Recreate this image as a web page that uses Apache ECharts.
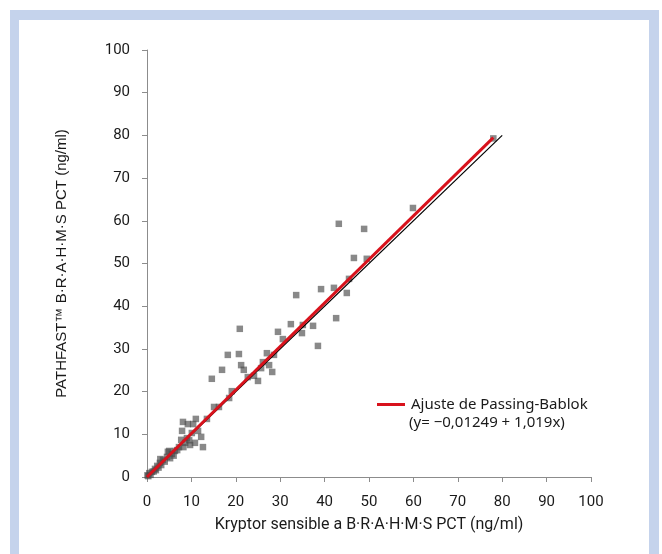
<!DOCTYPE html>
<html><head><meta charset="utf-8">
<script src="https://cdn.jsdelivr.net/npm/echarts@6/dist/echarts.min.js"></script>
<style>
html,body{margin:0;padding:0;background:#fff;}
#frame{position:absolute;left:10px;top:10px;width:649px;height:560px;box-sizing:border-box;border:10px solid #c5d3ec;border-left-width:9px;background:#fff;}
#chart{position:absolute;left:0;top:0;width:662px;height:554px;}
</style></head>
<body>
<div id="frame"></div>
<div id="chart"></div>
<script>
// Kryptor (x) vs PATHFAST (y), ng/ml
const xVals = [78,59.9,43.2,48.9,46.6,49.5,45.5,39.2,42.1,45.0,42.6,37.4,35.1,34.9,38.5,33.6,32.4,29.5,30.6,20.9,
  18.2,20.7,27.0,28.6,21.2,21.8,26.1,27.5,25.7,28.2,16.9,14.6,22.7,24.1,25.0,19.1,18.5,15.1,16.2,13.5,
  11.0,9.2,10.4,7.9,11.5,12.2,10.1,9.0,7.7,8.6,10.8,12.6,9.7,7.2,6.3,5.6,4.7,4.5,3.6,2.9,
  2.3,1.8,1.1,0.5,0.1,6.8,5.2,3.2,2.0,1.5,0.8,0.3,4.0,6.0,8.2,9.5,5.0,3.0,8.1,2.6];
const yVals = [79.3,63.0,59.3,58.1,51.3,51.1,46.4,44.0,44.3,43.1,37.2,35.4,35.6,33.7,30.7,42.6,35.8,34.0,32.3,34.7,
  28.6,28.8,29.0,28.6,26.2,25.1,26.9,26.2,25.5,24.6,25.1,23.0,23.4,23.7,22.5,20.1,18.5,16.4,16.4,13.6,
  13.6,12.4,12.4,10.8,10.8,9.4,10.3,9.1,8.7,8.0,8.0,7.0,7.5,7.0,6.1,5.4,5.9,4.7,4.0,3.3,
  2.6,1.9,1.2,0.9,0.4,6.3,4.4,2.8,1.6,1.3,0.5,0.2,3.6,5.0,7.0,8.6,6.1,4.2,12.9,2.2];
const fitName = 'Ajuste de Passing-Bablok';
const fitEquation = '(y= \u22120,01249 + 1,019x)';
const fitIntercept = -0.01249, fitSlope = 1.019;
const fitRange = [0, 78];
const identityRange = [0, 80];
const axisTicks = [0,10,20,30,40,50,60,70,80,90,100];
const xTitle = 'Kryptor sensible a B\u00b7R\u00b7A\u00b7H\u00b7M\u00b7S PCT (ng/ml)';
const yTitle = 'PATHFAST\u2122 B\u00b7R\u00b7A\u00b7H\u00b7M\u00b7S PCT (ng/ml)';

const points = xVals.map((x, i) => [x, yVals[i]]);
const fitLine = fitRange.map(x => [x, fitIntercept + fitSlope * x]);
const idLine = identityRange.map(x => [x, x]);

const chart = echarts.init(document.getElementById('chart'), null, {renderer: 'canvas'});
const axisCommon = {
  min: axisTicks[0], max: axisTicks[axisTicks.length - 1], interval: 10,
  splitLine: {show: false},
  axisLine: {lineStyle: {color: '#8c8c8c', width: 1}},
  axisTick: {show: true, length: 5, lineStyle: {color: '#8c8c8c'}},
  axisLabel: {color: '#1a1a1a', fontFamily: 'Roboto', fontSize: 15}
};
chart.setOption({
  backgroundColor: 'transparent',
  animation: false,
  grid: {left: 147, right: 71, top: 50, bottom: 77, containLabel: false},
  xAxis: Object.assign({}, axisCommon, {
    type: 'value',
    name: xTitle, nameLocation: 'middle', nameGap: 40,
    nameTextStyle: {color: '#1a1a1a', fontFamily: 'Roboto', fontSize: 16},
    axisLabel: Object.assign({}, axisCommon.axisLabel, {margin: 18})
  }),
  yAxis: Object.assign({}, axisCommon, {
    type: 'value',
    name: yTitle, nameLocation: 'middle', nameGap: 78,
    nameTextStyle: {color: '#1a1a1a', fontFamily: 'Liberation Sans', fontSize: 15},
    axisLabel: Object.assign({}, axisCommon.axisLabel, {margin: 17})
  }),
  legend: {
    data: [{name: fitName, icon: 'rect'}],
    left: 372, top: 392, itemWidth: 28, itemHeight: 3, itemGap: 9,
    textStyle: {color: '#1a1a1a', fontFamily: 'Noto Sans', fontSize: 15, padding: [0,0,0,1]}
  },
  graphic: [{
    type: 'text', left: 409, top: 415,
    style: {text: fitEquation, fill: '#1a1a1a', font: '15px "Noto Sans"'}
  }],
  series: [
    {type: 'scatter', data: points, symbol: 'rect', symbolSize: 6.5,
     itemStyle: {color: 'rgba(75,75,75,0.82)'}, z: 2, silent: true},
    {type: 'line', data: idLine, symbol: 'none', lineStyle: {color: '#000', width: 1.2}, z: 3, silent: true},
    {type: 'line', name: fitName, data: fitLine, symbol: 'none', color: '#d8121c',
     lineStyle: {color: '#d8121c', width: 3}, z: 4, silent: true}
  ]
});
</script>
</body></html>
